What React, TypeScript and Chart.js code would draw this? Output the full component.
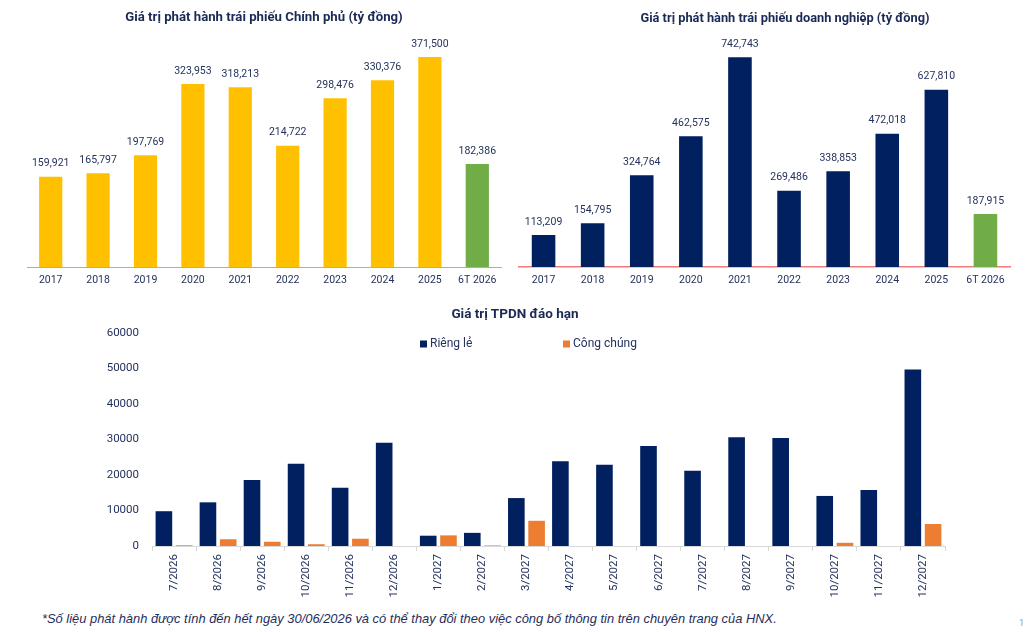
import React, { useEffect, useRef } from "react";
import { Chart, registerables } from "chart.js";

Chart.register(...registerables);

// ---------- data ----------
const years = ["2017", "2018", "2019", "2020", "2021", "2022", "2023", "2024", "2025", "6T 2026"];
const govValues = [159921, 165797, 197769, 323953, 318213, 214722, 298476, 330376, 371500, 182386];
const corpValues = [113209, 154795, 324764, 462575, 742743, 269486, 338853, 472018, 627810, 187915];

const months = [
  "7/2026", "8/2026", "9/2026", "10/2026", "11/2026", "12/2026",
  "1/2027", "2/2027", "3/2027", "4/2027", "5/2027", "6/2027",
  "7/2027", "8/2027", "9/2027", "10/2027", "11/2027", "12/2027",
];
const privateValues = [9800, 12300, 18600, 23200, 16400, 29100, 2900, 3700, 13500, 23900, 22900, 28200, 21200, 30600, 30400, 14100, 15800, 49700];
const publicValues = [200, 1900, 1200, 500, 2050, 0, 3000, 150, 7100, 0, 0, 0, 0, 0, 0, 900, 0, 6200];

const govTitle = "Giá trị phát hành trái phiếu Chính phủ (tỷ đồng)";
const corpTitle = "Giá trị phát hành trái phiếu doanh nghiệp (tỷ đồng)";
const maturityTitle = "Giá trị TPDN đáo hạn";
const seriesNames = ["Riêng lẻ", "Công chúng"];
const footnote = "*Số liệu phát hành được tính đến hết ngày 30/06/2026 và có thể thay đổi theo việc công bố thông tin trên chuyên trang của HNX.";

// ---------- styles ----------
const FONT = "Roboto, 'Noto Sans', sans-serif";
const TITLE_COLOR = "#1B2A55";
const TEXT_COLOR = "#24325c";
const YELLOW = "#FFC000";
const GREEN = "#70AD47";
const NAVY = "#002060";
const ORANGE = "#ED7D31";

const valueLabelPlugin = {
  id: "valueLabels",
  afterDatasetsDraw(chart: any) {
    const ctx = chart.ctx;
    ctx.save();
    ctx.font = `10.5px ${FONT}`;
    ctx.fillStyle = TEXT_COLOR;
    ctx.textAlign = "center";
    ctx.textBaseline = "middle";
    chart.data.datasets.forEach((ds: any, di: number) => {
      const meta = chart.getDatasetMeta(di);
      meta.data.forEach((el: any, i: number) => {
        const v = ds.data[i];
        ctx.fillText(Number(v).toLocaleString("en-US"), el.x, el.y - 13);
      });
    });
    ctx.restore();
  },
};

const legendPlugin = {
  id: "customLegend",
  afterDraw(chart: any) {
    const ctx = chart.ctx;
    const xs = [420, 563];
    const y = 48;
    ctx.save();
    ctx.font = `12px ${FONT}`;
    ctx.textBaseline = "middle";
    ctx.textAlign = "left";
    chart.data.datasets.forEach((ds: any, i: number) => {
      ctx.fillStyle = ds.backgroundColor;
      ctx.fillRect(xs[i], y - 3.5, 7, 7);
      ctx.fillStyle = TEXT_COLOR;
      ctx.fillText(ds.label, xs[i] + 10, y);
    });
    ctx.restore();
  },
};

function useChart(ref: React.RefObject<HTMLCanvasElement>, makeConfig: () => any) {
  useEffect(() => {
    if (!ref.current) return;
    const chart = new Chart(ref.current, makeConfig());
    return () => chart.destroy();
  }, []);
}

function topConfig(values: number[], mainColor: string, max: number, pad: any, axisColor: string, axisOnTop: boolean, barPct: number) {
  return {
    type: "bar",
    data: {
      labels: years,
      datasets: [
        {
          data: values,
          backgroundColor: values.map((_, i) => (i === values.length - 1 ? GREEN : mainColor)),
          borderWidth: 0,
          barPercentage: barPct,
          categoryPercentage: 1,
        },
      ],
    },
    options: {
      responsive: false,
      animation: false,
      layout: { padding: pad },
      plugins: { legend: { display: false }, title: { display: false }, tooltip: { enabled: false } },
      scales: {
        y: { display: false, min: 0, max },
        x: {
          z: axisOnTop ? 1 : 0,
          afterFit: (s: any) => { s.height = 28; },
          grid: { display: false, drawTicks: false },
          border: { display: true, color: axisColor, width: axisOnTop ? 1.5 : 1 },
          ticks: { padding: 7, color: TEXT_COLOR, font: { family: FONT, size: 10.5 } },
        },
      },
    },
    plugins: [valueLabelPlugin],
  };
}

export default function App() {
  const govRef = useRef<HTMLCanvasElement>(null);
  const corpRef = useRef<HTMLCanvasElement>(null);
  const matRef = useRef<HTMLCanvasElement>(null);

  useChart(govRef, () =>
    topConfig(govValues, YELLOW, 400000, { left: 27, right: 9, top: 41, bottom: 0 }, "#EE9A63", false, 0.49)
  );
  useChart(corpRef, () =>
    topConfig(corpValues, NAVY, 800000, { left: 9, right: 16, top: 41, bottom: 0 }, "#F27A7C", true, 0.48)
  );
  useChart(matRef, () => ({
    type: "bar",
    data: {
      labels: months,
      datasets: [
        { label: seriesNames[0], data: privateValues, backgroundColor: NAVY, borderWidth: 0, categoryPercentage: 0.92, barPercentage: 0.82 },
        { label: seriesNames[1], data: publicValues, backgroundColor: ORANGE, borderWidth: 0, categoryPercentage: 0.92, barPercentage: 0.82 },
      ],
    },
    options: {
      responsive: false,
      animation: false,
      layout: { padding: { left: 0, right: 81, top: 37, bottom: 0 } },
      plugins: { legend: { display: false }, title: { display: false }, tooltip: { enabled: false } },
      scales: {
        y: {
          min: 0,
          max: 60000,
          afterFit: (s: any) => { s.width = 152; },
          grid: { display: false, drawTicks: false },
          border: { display: false },
          ticks: {
            stepSize: 10000,
            padding: 13,
            color: TEXT_COLOR,
            font: { family: FONT, size: 11.5 },
            callback: (v: any) => String(v),
          },
        },
        x: {
          afterFit: (s: any) => { s.height = 56; },
          grid: { display: true, drawOnChartArea: false, drawTicks: true, tickLength: 5, color: "#D9D9D9", offset: true },
          border: { display: true, color: "#D9D9D9" },
          ticks: { minRotation: 90, maxRotation: 90, autoSkip: false, padding: 3, color: TEXT_COLOR, font: { family: FONT, size: 11.5 } },
        },
      },
    },
    plugins: [legendPlugin],
  }));

  const titleStyle = (cx: number, cy: number, size: number): React.CSSProperties => ({
    position: "absolute",
    left: cx - 300,
    width: 600,
    top: cy - size * 0.7,
    textAlign: "center",
    fontFamily: FONT,
    fontWeight: "bold",
    fontSize: size,
    lineHeight: `${size * 1.4}px`,
    color: TITLE_COLOR,
    whiteSpace: "nowrap",
  });

  return (
    <div style={{ position: "fixed", left: 0, top: 0, width: 1026, height: 632, background: "#fff", overflow: "hidden" }}>
      <canvas ref={govRef} width={510} height={295} style={{ position: "absolute", left: 0, top: 0, width: 510, height: 295 }} />
      <canvas ref={corpRef} width={516} height={295} style={{ position: "absolute", left: 510, top: 0, width: 516, height: 295 }} />
      <canvas ref={matRef} width={1026} height={306} style={{ position: "absolute", left: 0, top: 296, width: 1026, height: 306 }} />
      <div style={titleStyle(264, 17, 13.2)}>{govTitle}</div>
      <div style={titleStyle(785, 18, 12.8)}>{corpTitle}</div>
      <div style={titleStyle(515, 313, 13.5)}>{maturityTitle}</div>
      <div
        style={{
          position: "absolute",
          left: 42,
          top: 611,
          fontFamily: "'Liberation Sans', Arial, sans-serif",
          fontStyle: "italic",
          fontSize: 12.9,
          lineHeight: "16px",
          color: "#1F2D5A",
          whiteSpace: "nowrap",
        }}
      >
        {footnote}
      </div>
      <div style={{ position: "absolute", left: 1019, top: 618, fontFamily: FONT, fontSize: 9, color: "#8aa0c0" }}>1</div>
    </div>
  );
}
